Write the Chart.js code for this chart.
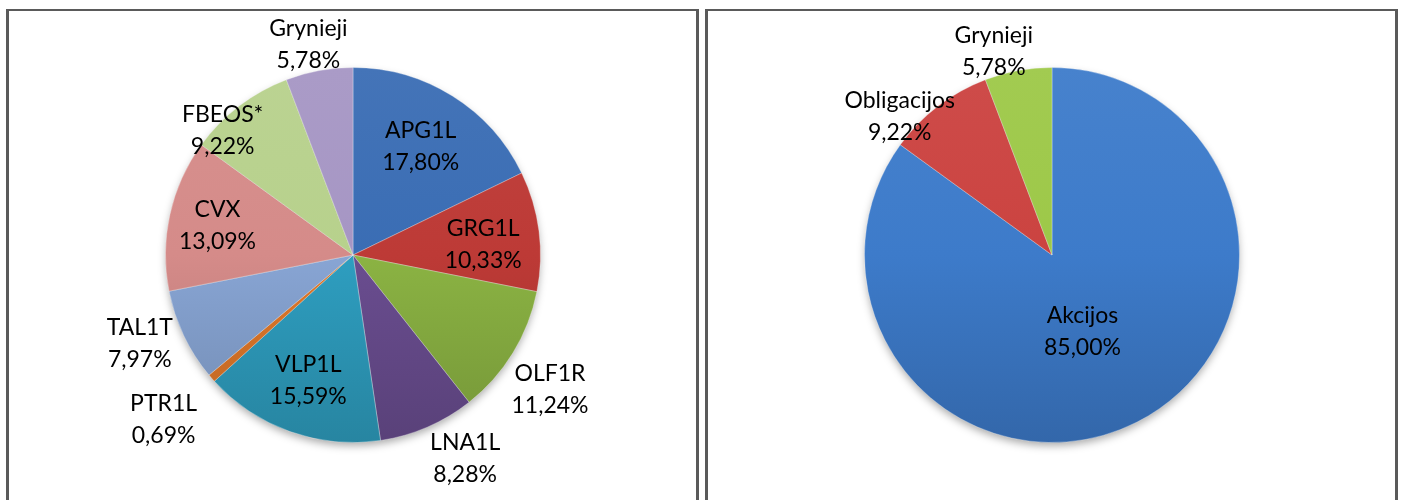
<!DOCTYPE html>
<html>
<head>
<meta charset="utf-8">
<script src="https://cdn.jsdelivr.net/npm/chart.js@4"></script>
<style>
  body { margin: 0; background: #fff; width: 1403px; height: 500px; overflow: hidden; position: relative; }
  .box { position: absolute; top: 9px; height: 520px; border: 2px solid #5a5a5a; border-left-width: 3px; border-right-width: 3px; box-sizing: border-box; }
  #boxLeft { left: 6px; width: 693px; }
  #boxRight { left: 705px; width: 693px; }
  canvas { position: absolute; top: 11px; }
  #fundChart { left: 9px; }
  #assetChart { left: 708px; }
</style>
</head>
<body>
<div class="box" id="boxLeft"></div>
<div class="box" id="boxRight"></div>
<canvas id="fundChart" width="688" height="489"></canvas>
<canvas id="assetChart" width="688" height="489"></canvas>
<script>
// Left pie: holdings
const fundLabels = ['APG1L', 'GRG1L', 'OLF1R', 'LNA1L', 'VLP1L', 'PTR1L', 'TAL1T', 'CVX', 'FBEOS*', 'Grynieji'];
const fundShares = [17.80, 10.33, 11.24, 8.28, 15.59, 0.69, 7.97, 13.09, 9.22, 5.78];

// Right pie: asset classes
const assetLabels = ['Akcijos', 'Obligacijos', 'Grynieji'];
const assetShares = [85.00, 9.22, 5.78];

// Slice colours
const fundColors = ['#3a6db4', '#bd3a36', '#8bb343', '#6a4d90', '#2e9ec0', '#e0782a', '#88a5d4', '#d58b89', '#b7d18c', '#a696c4'];
const assetColors = ['#3d7bca', '#cb4340', '#9dc848'];

// Label placement: [radius factor, x nudge, y nudge]
const fundLabelPos = [[0.68, 0, 0], [0.70, 0, 6], [1.27, -6, 10], [1.24, 20, -10], [0.71, 0, 0],
  [1.34, 0, 0], [1.23, -5, -11], [0.74, 0, 0], [0.96, -21, 19], [1.14, -6, 0]];
const assetLabelPos = [[0.44, -7, 3], [1.10, -27, 25], [1.13, -20, 5]];

function shade(hex, f) {
  const n = parseInt(hex.slice(1), 16);
  const ch = [(n >> 16) & 255, (n >> 8) & 255, n & 255].map(c => {
    const v = f >= 1 ? c + (255 - c) * (f - 1) : c * f;
    return Math.round(Math.max(0, Math.min(255, v)));
  });
  return 'rgb(' + ch.join(',') + ')';
}

function gradientFill(colors) {
  return (context) => {
    const base = colors[context.dataIndex];
    const area = context.chart.chartArea;
    if (!area) return base;
    const g = context.chart.ctx.createLinearGradient(0, area.top, 0, area.bottom);
    g.addColorStop(0, shade(base, 1.05));
    g.addColorStop(0.5, base);
    g.addColorStop(1, shade(base, 0.84));
    return g;
  };
}

const pieShadow = {
  id: 'pieShadow',
  beforeDatasetsDraw(chart) {
    const arc = chart.getDatasetMeta(0).data[0];
    if (!arc) return;
    const ctx = chart.ctx;
    ctx.save();
    ctx.shadowColor = 'rgba(0,0,0,0.35)';
    ctx.shadowBlur = 8;
    ctx.shadowOffsetY = 4;
    ctx.fillStyle = '#888';
    ctx.beginPath();
    ctx.arc(arc.x, arc.y, arc.outerRadius - 1, 0, Math.PI * 2);
    ctx.fill();
    ctx.restore();
  }
};

const sliceLabels = {
  id: 'sliceLabels',
  afterDatasetsDraw(chart, args, opts) {
    const ctx = chart.ctx;
    const values = chart.data.datasets[0].data;
    const names = chart.data.labels;
    ctx.save();
    ctx.font = '23px Lato';
    ctx.fillStyle = '#000';
    ctx.textAlign = 'center';
    ctx.textBaseline = 'middle';
    chart.getDatasetMeta(0).data.forEach((arc, i) => {
      const [f, dx, dy] = opts.pos[i];
      const mid = (arc.startAngle + arc.endAngle) / 2;
      const x = arc.x + Math.cos(mid) * arc.outerRadius * f + dx;
      const y = arc.y + Math.sin(mid) * arc.outerRadius * f + dy;
      ctx.fillText(names[i], x, y - 16);
      ctx.fillText(values[i].toFixed(2).replace('.', ',') + '%', x, y + 16);
    });
    ctx.restore();
  }
};

function makePie(id, labels, values, colors, pos) {
  return new Chart(document.getElementById(id), {
    type: 'pie',
    data: {
      labels: labels,
      datasets: [{
        data: values,
        backgroundColor: gradientFill(colors),
        borderColor: 'rgba(255,255,255,0.3)',
        borderWidth: 1
      }]
    },
    options: {
      responsive: false,
      animation: false,
      layout: { padding: { left: 156, right: 156, top: 56, bottom: 57 } },
      plugins: {
        legend: { display: false },
        tooltip: { enabled: false },
        sliceLabels: { pos: pos }
      }
    },
    plugins: [pieShadow, sliceLabels]
  });
}

makePie('fundChart', fundLabels, fundShares, fundColors, fundLabelPos);
makePie('assetChart', assetLabels, assetShares, assetColors, assetLabelPos);
</script>
</body>
</html>
